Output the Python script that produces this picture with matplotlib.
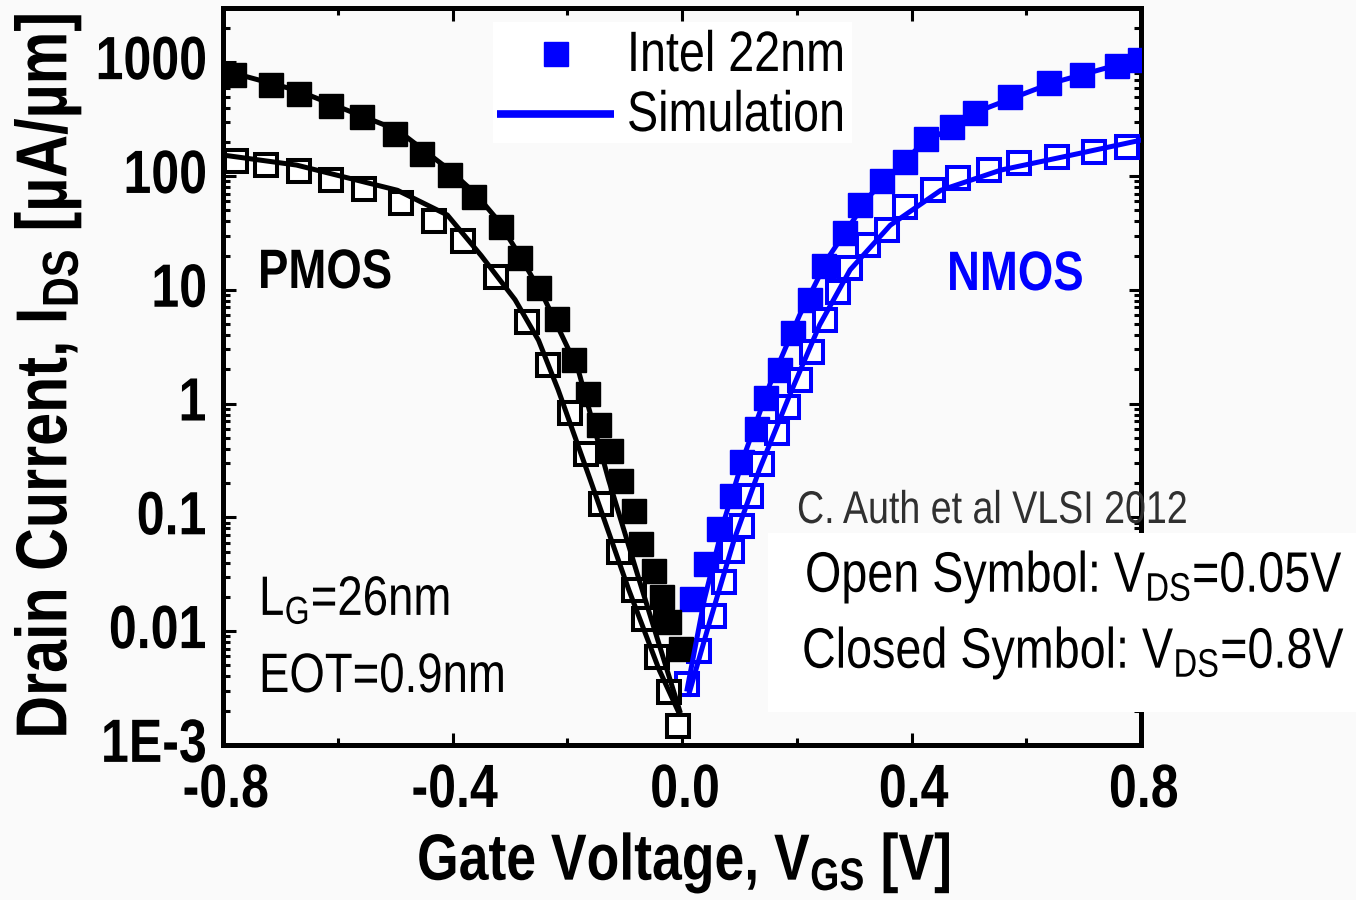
import matplotlib
matplotlib.use("Agg")
import matplotlib.pyplot as plt
from matplotlib.font_manager import FontProperties
from matplotlib.lines import Line2D
from matplotlib.patches import PathPatch, Rectangle
from matplotlib.textpath import TextPath
from matplotlib.transforms import Affine2D
from matplotlib.ticker import FixedLocator, LogLocator, MultipleLocator, NullFormatter

# Id-Vg transfer curves of a 22nm tri-gate process, measured vs simulated.
# Vgs in V, Ids in uA/um. "sat" = Vds 0.8 V (closed symbols), "lin" = Vds 0.05 V (open).

pmos_sat_vgs = [-0.78, -0.716, -0.667, -0.611, -0.558, -0.50, -0.453, -0.405, -0.363, -0.316,
                -0.282, -0.249, -0.218, -0.189, -0.163, -0.144, -0.123, -0.107, -0.084, -0.072,
                -0.049, -0.035, -0.023, -0.002]
pmos_sat_ids = [769, 628, 524, 411, 329, 234, 156, 102, 65, 36,
                19, 10.4, 5.5, 2.43, 1.22, 0.655, 0.38, 0.207, 0.113, 0.058,
                0.0336, 0.0199, 0.012, 0.0070]

pmos_lin_vgs = [-0.777, -0.725, -0.667, -0.612, -0.554, -0.489, -0.433, -0.382, -0.325, -0.270,
                -0.233, -0.196, -0.168, -0.142, -0.109, -0.084, -0.067, -0.044, -0.023, -0.007]
pmos_lin_ids = [135, 125, 111, 92, 77, 58, 40, 27, 13, 5.2,
                2.2, 0.83, 0.36, 0.13, 0.050, 0.023, 0.0127, 0.0059, 0.0029, 0.00147]

nmos_sat_vgs = [0.018, 0.042, 0.065, 0.088, 0.105, 0.130, 0.146, 0.170, 0.193, 0.223,
                0.247, 0.284, 0.311, 0.349, 0.389, 0.426, 0.470, 0.511, 0.572, 0.640,
                0.698, 0.758, 0.798]
nmos_sat_ids = [0.0193, 0.039, 0.0785, 0.153, 0.31, 0.60, 1.13, 1.99, 4.2, 8.2,
                16.3, 31.6, 55.7, 90, 133, 211, 269, 357, 493, 655,
                769, 922, 1040]

nmos_lin_vgs = [0.009, 0.030, 0.056, 0.074, 0.088, 0.104, 0.121, 0.140, 0.165, 0.184,
                0.205, 0.226, 0.249, 0.272, 0.293, 0.325, 0.358, 0.389, 0.437, 0.481,
                0.535, 0.588, 0.653, 0.718, 0.775]
nmos_lin_ids = [0.00343, 0.00668, 0.0136, 0.0269, 0.0504, 0.0834, 0.153, 0.292, 0.557, 0.94,
                1.62, 2.86, 5.46, 9.6, 15.6, 24.8, 33.6, 53, 75, 96,
                113, 130, 147, 163, 180]

# simulation
pmos_sat_sim_vgs = [-0.80, -0.672, -0.496, -0.405, -0.36, -0.321, -0.28, -0.239, -0.181, -0.128,
                    -0.075, -0.032, -0.004]
pmos_sat_sim_ids = [851, 568, 254, 113, 70, 41, 19, 8.2, 1.99, 0.215, 0.0286, 0.0057, 0.002]
pmos_lin_sim_vgs = [-0.80, -0.672, -0.496, -0.409, -0.35, -0.291, -0.25, -0.216, -0.160, -0.093,
                    -0.040, -0.005]
pmos_lin_sim_ids = [153, 125, 75, 45.5, 20, 8.2, 3.6, 1.33, 0.215, 0.0233, 0.0046, 0.0019]
nmos_sat_sim_vgs = [0.009, 0.039, 0.074, 0.109, 0.153, 0.205, 0.258, 0.328, 0.416, 0.521, 0.644, 0.80]
nmos_sat_sim_ids = [0.0031, 0.0191, 0.096, 0.357, 1.47, 6.0, 20.3, 68, 187, 379, 655, 1084]
nmos_lin_sim_vgs = [0.012, 0.047, 0.091, 0.135, 0.188, 0.240, 0.293, 0.363, 0.451, 0.556, 0.679, 0.80]
nmos_lin_sim_ids = [0.0028, 0.0115, 0.064, 0.264, 1.2, 4.93, 15, 37, 75, 113, 153, 207]

y_ticks = [1e-3, 1e-2, 1e-1, 1, 10, 100, 1000]
y_tick_labels = ["1E-3", "0.01", "0.1", "1", "10", "100", "1000"]
x_ticks = [-0.8, -0.4, 0.0, 0.4, 0.8]
x_tick_labels = ["-0.8", "-0.4", "0.0", "0.4", "0.8"]

BLUE = "#0000ff"
BG = "#fafafa"
W, H, DPI = 1356, 900, 100
SQUEEZE = 0.82   # Liberation Sans squeezed to an Arial-Narrow width
CAP = 0.716      # cap height / em

plt.rcParams["font.family"] = ["Liberation Sans", "DejaVu Sans"]
plt.rcParams["mathtext.default"] = "regular"

fig = plt.figure(figsize=(W / DPI, H / DPI), dpi=DPI, facecolor=BG)
ax = fig.add_axes([223 / W, 1 - 745 / H, (1141 - 223) / W, (745 - 8) / H])
ax.set_facecolor(BG)


def narrow_text(x, y, s, size, bold=False, color="black", ha="left", rotation=0, zorder=6):
    """Condensed text; x, y in pixels from the top-left, y on the baseline."""
    prop = FontProperties(family="Liberation Sans", weight="bold" if bold else "normal")
    path = TextPath((0, 0), s, size=size * DPI / 72, prop=prop)
    width = path.get_extents().x1 * SQUEEZE
    shift = {"left": 0.0, "center": -width / 2, "right": -width}[ha]
    tr = (Affine2D().scale(SQUEEZE, 1).translate(shift, 0)
          .rotate_deg(rotation).translate(x, H - y))
    fig.add_artist(PathPatch(path, transform=tr, facecolor=color, edgecolor="none",
                             lw=0, zorder=zorder))


open_kw = dict(ls="none", marker="s", ms=16, mew=2.9, mfc="white", zorder=3)
fill_kw = dict(ls="none", marker="s", ms=17, mew=1.0, zorder=3)

ax.plot(nmos_sat_vgs, nmos_sat_ids, mfc=BLUE, mec=BLUE, **fill_kw)
ax.plot(nmos_lin_vgs, nmos_lin_ids, mec=BLUE, **open_kw)
ax.plot(pmos_sat_vgs, pmos_sat_ids, mfc="black", mec="black", **fill_kw)
ax.plot(pmos_lin_vgs, pmos_lin_ids, mec="black", **open_kw)

ax.plot(pmos_sat_sim_vgs, pmos_sat_sim_ids, color="black", lw=3.6, zorder=4)
ax.plot(pmos_lin_sim_vgs, pmos_lin_sim_ids, color="black", lw=3.6, zorder=4)
ax.plot(nmos_sat_sim_vgs, nmos_sat_sim_ids, color=BLUE, lw=3.6, zorder=4)
ax.plot(nmos_lin_sim_vgs, nmos_lin_sim_ids, color=BLUE, lw=3.6, zorder=4)

ax.set_yscale("log")
ax.set_xlim(-0.8, 0.8)
ax.set_ylim(1e-3, 3000)

ax.yaxis.set_major_locator(FixedLocator(y_ticks))
ax.yaxis.set_minor_locator(LogLocator(base=10, subs=range(2, 10), numticks=20))
ax.yaxis.set_minor_formatter(NullFormatter())
ax.set_xticks(x_ticks)
ax.xaxis.set_minor_locator(MultipleLocator(0.2))
ax.tick_params(which="both", direction="in", top=True, right=True, width=2.2,
               labelleft=False, labelbottom=False)
ax.tick_params(which="major", length=9)
ax.tick_params(which="minor", length=5)
for sp in ax.spines.values():
    sp.set_linewidth(3.6)

# tick labels in the condensed bold face
tick_pt = 44
tick_cap = CAP * tick_pt * DPI / 72
for val, lab in zip(y_ticks, y_tick_labels):
    ty = H - ax.transData.transform((0, val))[1]
    narrow_text(205, ty + tick_cap / 2 - 5, lab, tick_pt, bold=True, ha="right")
for val, lab in zip(x_ticks, x_tick_labels):
    tx = ax.transData.transform((val, 1))[0]
    narrow_text(tx + 2, 807, lab, tick_pt, bold=True, ha="center")

# legend panel
fig.add_artist(Rectangle((493 / W, 1 - 143 / H), (852 - 493) / W, (143 - 22) / H,
                         transform=fig.transFigure, facecolor="white", edgecolor="none", zorder=5))
fig.add_artist(Line2D([556 / W], [1 - 54 / H], transform=fig.transFigure, ls="none",
                      marker="s", ms=17, mew=1.0, mfc=BLUE, mec=BLUE, zorder=6))
fig.add_artist(Line2D([497 / W, 614 / W], [1 - 114 / H] * 2, transform=fig.transFigure,
                      color=BLUE, lw=5.5, solid_capstyle="butt", zorder=6))
narrow_text(627, 71, "Intel 22nm", 41)
narrow_text(627, 131, "Simulation", 41)

narrow_text(258, 288, "PMOS", 40, bold=True)
narrow_text(947, 290, "NMOS", 40, bold=True, color=BLUE)
narrow_text(259, 615, "$L_G$=26nm", 40)
narrow_text(259, 692, "EOT=0.9nm", 40)

# white panel with the bias conditions, sitting over the right spine
fig.add_artist(Rectangle((768 / W, 1 - 712 / H), (W - 768) / W, (712 - 533) / H,
                         transform=fig.transFigure, facecolor="white", edgecolor="none", zorder=5))
narrow_text(797, 523, "C. Auth et al VLSI 2012", 33, color="#303030")
narrow_text(805, 592, "Open Symbol: $V_{DS}$=0.05V", 41)
narrow_text(802, 668, "Closed Symbol: $V_{DS}$=0.8V", 41)

# axis titles
narrow_text(683, 880, "Gate Voltage, $V_{GS}$ [V]", 47, bold=True, ha="center")
ylab_pt = 52
narrow_text(15 + CAP * ylab_pt * DPI / 72, 377, "Drain Current, $I_{DS}$ [µA/µm]", ylab_pt,
            bold=True, ha="center", rotation=90)

fig.savefig("out.png", dpi=DPI, facecolor=BG)
